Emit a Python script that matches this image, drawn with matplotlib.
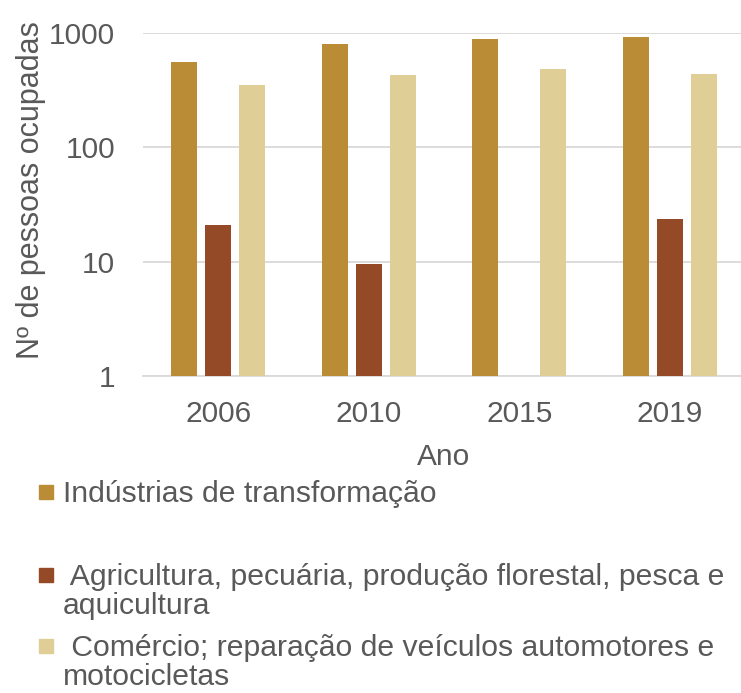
import numpy as np
import matplotlib
matplotlib.use("Agg")
import matplotlib.pyplot as plt
from matplotlib.patches import Rectangle

plt.rcParams['font.family'] = ['Liberation Sans', 'DejaVu Sans']

anos = ['2006', '2010', '2015', '2019']
series = [
    'Indústrias de transformação',
    ' Agricultura, pecuária, produção florestal, pesca e\naquicultura',
    ' Comércio; reparação de veículos automotores e\nmotocicletas',
]
industria = [556, 805, 890, 919]
agricultura = [20.8, 9.6, np.nan, 23.8]
comercio = [352, 425, 487, 440]
cores = ['#BA8C35', '#944A27', '#DFCE96']

fig = plt.figure(figsize=(7.41, 6.93), dpi=100)
ax = fig.add_axes([143 / 741, 1 - 376 / 693, 602 / 741, 343 / 693])

x = np.arange(len(anos))
w = 0.172
off = 0.225
for i, (vals, c) in enumerate(zip([industria, agricultura, comercio], cores)):
    ax.bar(x + (i - 1) * off, vals, width=w, color=c, zorder=3)

ax.set_yscale('log')
ax.set_ylim(1, 1000)
ax.set_xlim(-0.5, 3.5)
ax.set_yticks([1, 10, 100, 1000])
ax.set_yticklabels(['1', '10', '100', '1000'])
ax.minorticks_off()
ax.set_xticks(x)
ax.set_xticklabels(anos)
ax.tick_params(axis='both', length=0, labelsize=21.5, colors='#595959')
ax.tick_params(axis='y', pad=20)
ax.tick_params(axis='x', pad=17)
ax.grid(axis='y', color='#D9D9D9', linewidth=1.3, zorder=0)
for s in ['top', 'right', 'left']:
    ax.spines[s].set_visible(False)
ax.spines['bottom'].set_color('#D9D9D9')
ax.spines['bottom'].set_linewidth(1.3)

fig.text(444 / 741, 1 - 465 / 693, 'Ano', ha='center', va='baseline',
         fontsize=21.5, color='#595959')
fig.text(31 / 741, 1 - 190 / 693, 'Nº de pessoas ocupadas', rotation=90,
         ha='center', va='center', fontsize=22, color='#595959')

# legenda (uma linha de texto por vez)
base_y = [502, 585, 656]
passo = 29
for lab, c, by in zip(series, cores, base_y):
    fig.patches.append(Rectangle((39 / 741, 1 - (by - 3) / 693), 14 / 741, 14 / 693,
                                 color=c, transform=fig.transFigure, figure=fig))
    for k, linha in enumerate(lab.split('\n')):
        fig.text(63 / 741, 1 - (by + k * passo) / 693, linha, ha='left', va='baseline',
                 fontsize=21.7, color='#595959')

fig.savefig('out.png', dpi=100)
